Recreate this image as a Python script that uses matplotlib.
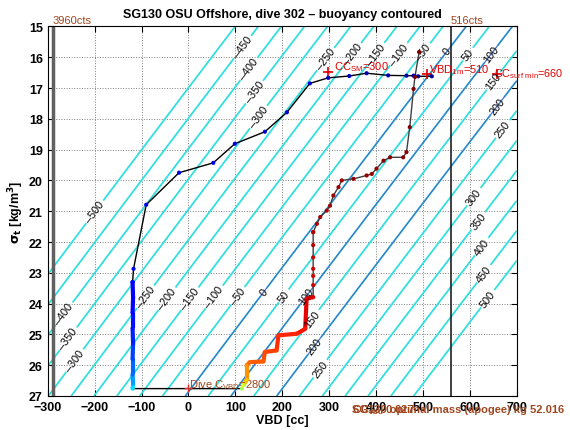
import matplotlib
matplotlib.use('Agg')
import matplotlib.pyplot as plt
import numpy as np
from matplotlib.collections import LineCollection

plt.rcParams['font.family'] = ['Liberation Sans', 'DejaVu Sans']
plt.rcParams['mathtext.default'] = 'regular'

# glider / buoyancy model
mass_g = 52016.0          # optimal mass (apogee), g
vol0_cc = 50655.0         # hull volume at VBD = 0, cc
levels = [-500, -450, -400, -350, -300, -250, -200, -150, -100, -50, 0,
          50, 100, 150, 200, 250, 300, 350, 400, 450, 500]
blue_levels = [0, 100, 200]

# contour labels: (level, sigma where the label sits)
label_lv = [-450, -400, -350, -300, -250, -200, -150, -100, -50, 0, 50, 100,
            150, 200, 250, 300, 350, 400, 450, 500,
            -500, -400, -350, -300, -250, -200, -150, -100, -50, 0, 50, 100,
            150, 200, 250]
label_sig = [15.67, 16.38, 17.13, 17.94, 16.06, 15.90, 15.90, 15.90, 15.83, 15.80,
             15.90, 15.90, 16.77, 17.58, 18.33, 20.53, 21.31, 22.15, 23.03, 23.84,
             21.02, 24.33, 25.14, 25.85, 23.78, 23.84, 23.84, 23.78, 23.75, 23.62,
             23.75, 23.75, 24.49, 25.37, 26.11]

# dive track (VBD cc, sigma_t, colour index)
dive_vbd = [519, 490, 483, 480, 465, 426, 380, 343, 298, 259, 210, 163, 99, 53,
            -20, -90, -117, -119]
dive_sig = [16.62, 16.62, 16.62, 16.60, 16.60, 16.59, 16.52, 16.61, 16.67, 16.85,
            17.79, 18.42, 18.81, 19.43, 19.75, 20.79, 22.87, 23.30]
dive_c = [0.03, 0.03, 0.04, 0.04, 0.04, 0.05, 0.05, 0.06, 0.06, 0.07, 0.07, 0.08,
          0.08, 0.09, 0.09, 0.10, 0.11, 0.11]

bottom_vbd = [-119, -118, -119, -119, -118, -119, -119, -118, -119]
bottom_sig = [23.30, 23.80, 24.30, 24.80, 25.30, 25.80, 26.30, 26.60, 26.76]
bottom_c = [0.11, 0.12, 0.13, 0.14, 0.16, 0.19, 0.23, 0.28, 0.34]

climb_vbd = [114, 117, 124, 124, 131, 160, 163, 188, 192, 231, 249, 252, 266,
             266, 266, 266, 266, 266, 266]
climb_sig = [26.76, 26.65, 26.49, 26.01, 25.90, 25.88, 25.57, 25.52, 25.03, 24.98,
             24.82, 23.84, 23.79, 23.40, 23.10, 22.87, 22.50, 22.10, 21.68]
climb_c = [0.55, 0.60, 0.70, 0.75, 0.80, 0.81, 0.83, 0.84, 0.86, 0.87, 0.89, 0.91,
           0.92, 0.93, 0.93, 0.94, 0.94, 0.95, 0.95]

upper_vbd = [266, 274, 281, 295, 302, 309, 320, 327, 352, 380, 391, 401, 416, 430,
             458, 465, 472, 480, 483, 492]
upper_sig = [21.68, 21.41, 21.19, 20.98, 20.82, 20.49, 20.22, 20.00, 19.95, 19.84,
             19.79, 19.62, 19.36, 19.25, 19.25, 19.08, 18.27, 17.03, 16.64, 15.83]
upper_c = [0.95, 0.96, 0.96, 0.96, 0.97, 0.97, 0.97, 0.97, 0.98, 0.98, 0.98, 0.98,
           0.99, 0.99, 0.99, 0.99, 1.0, 1.0, 1.0, 1.0]

# reference marks
cts_vbd = [-289, 559]
cts_text = ['3960cts', '516cts']

fig = plt.figure(figsize=(5.7, 4.31), dpi=100)
ax = fig.add_axes([0.0837, 0.0789, 0.8228, 0.8575])
# limits first so that contour labels get the right on-screen angle
ax.set_xlim(-300, 700)
ax.set_ylim(27, 15)

vv, ss = np.meshgrid(np.linspace(-300, 700, 201), np.linspace(15, 27, 121))
buoy = (1 + ss / 1000.0) * (vol0_cc + vv) - mass_g

cs = ax.contour(vv, ss, buoy, levels=levels, colors='#33dede', linewidths=1.3,
                linestyles='solid')
ax.contour(vv, ss, buoy, levels=blue_levels, colors='#4272c8', linewidths=0.9,
           linestyles='solid')

lab_pos = [((lv + mass_g) / (1 + s / 1000.0) - vol0_cc, s)
           for lv, s in zip(label_lv, label_sig)]
ax.clabel(cs, manual=lab_pos, inline=True, fontsize=7.8, colors='k',
          fmt=lambda v: f'{v:.0f}'.replace('-', '\u2013'), inline_spacing=2)

ax.axvline(cts_vbd[0], color='#606060', lw=2.5)
ax.axvline(cts_vbd[1], color='#202020', lw=1.2)
for x, t in zip(cts_vbd, cts_text):
    ax.text(x, 14.97, t, color='#a0461e', fontsize=8, ha='left', va='bottom')

jet = plt.get_cmap('jet')

# track line
ax.plot(dive_vbd + bottom_vbd + [114], dive_sig + bottom_sig + [26.76], color='k', lw=1)
ax.plot(climb_vbd + upper_vbd, climb_sig + upper_sig, color='#404040', lw=1)

# dense parts drawn as thick coloured strokes
for xs, ys, cc in [(bottom_vbd, bottom_sig, bottom_c),
                   (climb_vbd[1:13], climb_sig[1:13], climb_c[1:13])]:
    pts = np.column_stack([xs, ys])
    segs = np.stack([pts[:-1], pts[1:]], axis=1)
    lc = LineCollection(segs, colors=jet(np.array(cc[1:])), linewidths=3.0, zorder=3)
    ax.add_collection(lc)

all_v = dive_vbd + bottom_vbd + climb_vbd + upper_vbd
all_s = dive_sig + bottom_sig + climb_sig + upper_sig
all_c = dive_c + bottom_c + climb_c + upper_c
ax.scatter(all_v, all_s, c=jet(np.array(all_c)), s=9, zorder=4, linewidths=0)

# markers
ax.plot([0], [26.75], '+', color='#e03030', ms=6, mew=1)
ax.text(2, 26.62, 'Dive C$_{VBD}$=2800', color='#a0461e', fontsize=8, va='center')
ax.plot([298], [16.49], '+', color='#dd0000', ms=7, mew=1.2)
ax.text(310, 16.3, 'CC$_{SM}$=300', color='#dd0000', fontsize=8, va='center')
ax.plot([508], [16.53], '+', color='#dd0000', ms=7, mew=1.2)
ax.text(514, 16.38, 'VBD$_{1m}$=510', color='#dd0000', fontsize=8, va='center')
ax.plot([657], [16.56], '+', color='#dd0000', ms=7, mew=1.2)
ax.text(652, 16.5, 'CC$_{surf\\ min}$=660', color='#dd0000', fontsize=7.8,
        va='center', clip_on=False)

ax.set_xticks([-300, -200, -100, 0, 100, 200, 300, 400, 500, 600, 700])
ax.set_yticks(list(range(15, 28)))
ax.tick_params(direction='in', top=True, right=True, length=4, labelsize=9)
for lab in ax.get_xticklabels() + ax.get_yticklabels():
    lab.set_fontweight('bold')
ax.grid(True, linestyle=':', color='#808080', lw=0.7)
ax.set_xlabel('VBD [cc]', fontsize=9, fontweight='bold', labelpad=1)
ax.set_ylabel('$\\mathbf{\\sigma_t}$ [kg/m$^\\mathbf{3}$]', fontsize=9,
              fontweight='bold', labelpad=2)
ax.set_title('SG130 OSU Offshore, dive 302 \u2013 buoyancy contoured', fontsize=9,
             fontweight='bold', pad=7)

fig.text(0.617, 0.048, 'SG130 optimal mass (apogee) kg 52.016', color='#a0461e',
         fontsize=8, fontweight='bold', va='center')
fig.text(0.617, 0.048, 'CC$_{vbd}$ 0.027', color='#a0461e', fontsize=8,
         fontweight='bold', va='center')

fig.savefig('out.png', dpi=100)
